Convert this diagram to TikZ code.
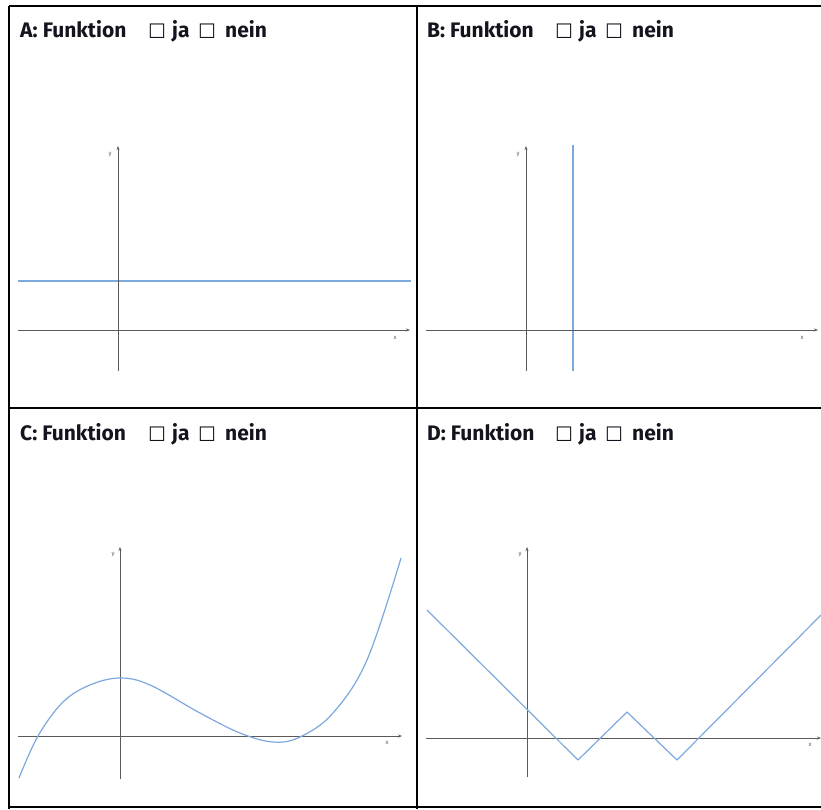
\documentclass[tikz,border=0pt]{standalone}
\usepackage{fontspec}
\setmainfont{Fira Sans}
\newfontfamily\symfont{DejaVu Sans}
\usetikzlibrary{arrows.meta}
\definecolor{curveblue}{RGB}{125,168,222}
\definecolor{axisgray}{RGB}{90,90,90}
\definecolor{titlecol}{RGB}{20,20,30}
\tikzset{
  frame/.style={draw=black, line width=1.4pt},
  axis/.style={draw=axisgray, line width=0.7pt, -{Stealth[length=4pt,width=3pt]}},
  graph/.style={draw=curveblue, line width=1.2pt, line join=round},
  title/.style={anchor=base west, inner sep=0pt, text=titlecol, font=\fontsize{21}{23}\selectfont\bfseries},
  cbox/.style={anchor=base west, inner sep=0pt, text=titlecol, font=\fontsize{20}{22}\selectfont\symfont},
  axlabel/.style={inner sep=0pt, font=\fontsize{6}{6}\selectfont, text=axisgray}
}
\newcommand{\titlerow}[4]{%
  \node[title] (#4f) at (#1,#2) {#3: Funktion};
  \node[cbox] (#4b1) at (#1+128,#2+1.5) {\char"2610};
  \node[title] (#4j) at (#1+152,#2) {ja};
  \node[cbox] (#4b2) at (#1+178,#2+1.5) {\char"2610};
  \node[title] (#4n) at (#1+205,#2) {nein};
}
\begin{document}
\begin{tikzpicture}[x=1pt,y=-1pt]
\useasboundingbox (0,0) rectangle (821,809);
% frames
\draw[frame] (9,6) -- (821,6);
\draw[frame] (9,6) -- (9,809);
\draw[frame] (417,6) -- (417,809);
\draw[frame] (9,408) -- (821,408);
\draw[frame] (9,807) -- (821,807);
% titles
\titlerow{20}{37}{A}{tA}
\titlerow{427}{37}{B}{tB}
\titlerow{20}{440}{C}{tC}
\titlerow{427}{440}{D}{tD}
% Panel A
\draw[graph] (18,281) -- (411,281);
\draw[axis] (118,371) -- (118,146);
\draw[axis] (18,330) -- (410,330);
\node[axlabel] (yA) at (110,155) {y};
\node[axlabel] (xA) at (395,338) {x};
% Panel B
\draw[graph, line width=1.6pt] (573,145) -- (573,371);
\draw[axis] (526,371) -- (526,146);
\draw[axis] (426,330) -- (818,330);
\node[axlabel] (yB) at (518,155) {y};
\node[axlabel] (xB) at (802,338) {x};
% Panel C
\draw[axis] (120,779) -- (120,547);
\draw[axis] (18,736) -- (402,736);
\node[axlabel] (yC) at (113,555) {y};
\node[axlabel] (xC) at (387,743) {x};
\draw[graph] plot[smooth, tension=0.6] coordinates {(19,778) (38,736) (63,702) (90,685) (120,678) (150,685) (200,713) (240,733) (273,742) (300,737) (333,713) (367,660) (401,558)};
% Panel D
\draw[axis] (527,777) -- (527,547);
\draw[axis] (426,738) -- (821,738);
\node[axlabel] (yD) at (520,555) {y};
\node[axlabel] (xD) at (810,745) {x};
\draw[graph] (427,610) -- (578,760) -- (627,712) -- (677,760) -- (821,615);
\end{tikzpicture}
\end{document}
